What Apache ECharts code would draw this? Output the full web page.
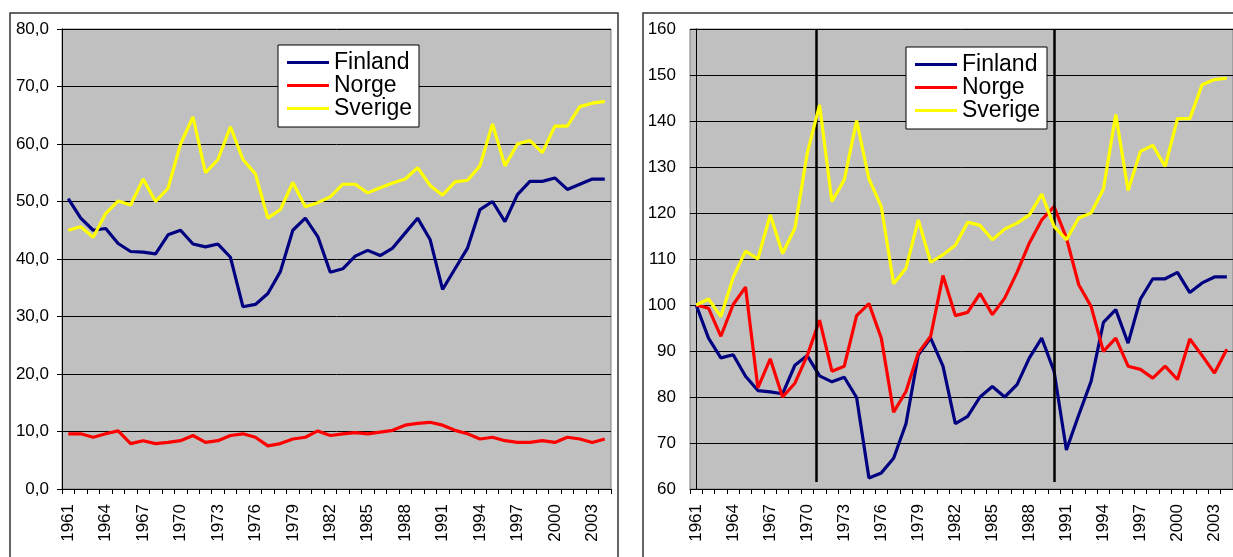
<!DOCTYPE html>
<html>
<head>
<meta charset="utf-8">
<script src="https://cdn.jsdelivr.net/npm/echarts@6/dist/echarts.min.js"></script>
<style>
  html, body { margin: 0; padding: 0; background: #fff; }
  #chart { width: 1233px; height: 557px; }
</style>
</head>
<body>
<div id="chart"></div>
<script>
  const years = []
  for (let y = 1961; y <= 2004; y++) years.push(String(y))

  // left chart: share (%)
  const finlandShare = [50.5, 47.1, 45.0, 45.3, 42.7, 41.3, 41.2, 40.9, 44.2, 45.0, 42.6, 42.1, 42.6, 40.3, 31.7,
    32.1, 34.0, 37.8, 45.0, 47.1, 43.9, 37.7, 38.3, 40.5, 41.5, 40.6, 41.9, 44.5, 47.1, 43.4,
    34.7, 38.3, 41.9, 48.6, 50.0, 46.5, 51.2, 53.5, 53.5, 54.1, 52.1, 53.0, 53.9, 53.9]
  const norgeShare = [9.6, 9.6, 9.0, 9.6, 10.1, 7.9, 8.4, 7.9, 8.1, 8.4, 9.3, 8.1, 8.4, 9.3, 9.6,
    9.0, 7.5, 7.9, 8.7, 9.0, 10.1, 9.3, 9.6, 9.8, 9.6, 9.9, 10.2, 11.1, 11.4, 11.6,
    11.1, 10.2, 9.6, 8.7, 9.0, 8.4, 8.1, 8.1, 8.4, 8.1, 9.0, 8.7, 8.1, 8.7]
  const sverigeShare = [45.0, 45.6, 43.8, 47.9, 50.1, 49.4, 53.9, 50.0, 52.3, 60.0, 64.7, 55.0, 57.3, 63.0, 57.3,
    54.8, 47.1, 48.6, 53.3, 49.1, 49.8, 50.8, 53.0, 53.0, 51.5, 52.4, 53.2, 53.9, 55.9, 52.8,
    51.1, 53.4, 53.7, 56.2, 63.5, 56.2, 60.0, 60.6, 58.5, 63.1, 63.1, 66.5, 67.1, 67.4]

  // right chart: index 1961 = 100
  const finlandIndex = [100, 92.8, 88.5, 89.2, 84.5, 81.4, 81.1, 80.7, 86.9, 89.0, 84.6, 83.3, 84.3, 79.9, 62.4,
    63.5, 66.7, 74.2, 89.2, 92.8, 86.7, 74.2, 75.8, 80.0, 82.3, 80.0, 82.7, 88.5, 92.8, 85.6,
    68.5, 76.1, 83.4, 96.2, 99.0, 91.7, 101.3, 105.7, 105.7, 107.1, 102.7, 104.8, 106.1, 106.1]
  const norgeIndex = [100, 99.3, 93.2, 100.1, 103.9, 82.0, 88.3, 80.0, 83.0, 89.0, 96.7, 85.6, 86.7, 97.7, 100.3,
    92.8, 76.7, 81.2, 89.6, 93.2, 106.4, 97.7, 98.4, 102.5, 97.9, 101.5, 107.1, 113.5, 118.5, 121.4,
    114.6, 104.4, 99.7, 89.9, 92.8, 86.7, 86.0, 84.1, 86.7, 83.8, 92.6, 89.0, 85.2, 90.4]
  const sverigeIndex = [100, 101.3, 97.5, 106.0, 111.7, 110.0, 119.6, 111.2, 116.7, 133.0, 143.5, 122.5, 127.2, 140.1, 127.4,
    121.4, 104.6, 108.0, 118.5, 109.3, 110.9, 113.0, 118.0, 117.3, 114.2, 116.5, 117.8, 119.6, 124.1, 117.1,
    114.2, 118.9, 120.0, 125.2, 141.4, 124.9, 133.4, 134.7, 130.1, 140.5, 140.5, 147.9, 149.0, 149.3]

  // vertical marker lines in the right chart
  const breakYears = [1970.73, 1990]

  const names = ['Finland', 'Norge', 'Sverige']
  const colors = ['#000080', '#ff0000', '#ffff00']
  const font = "'Liberation Sans', Arial, sans-serif"

  const chart = echarts.init(document.getElementById('chart'), null, { renderer: 'canvas' })

  function xAxisFor(gridIndex) {
    return {
      type: 'category',
      gridIndex,
      data: years,
      boundaryGap: true,
      axisLine: { lineStyle: { color: '#000', width: 1 } },
      axisTick: { show: true, interval: 0, length: 5, lineStyle: { color: '#000' } },
      axisLabel: { interval: 2, rotate: 90, margin: 15, color: '#000', fontSize: 17, fontFamily: font },
      splitLine: { show: false }
    }
  }

  function yAxisFor(gridIndex, min, max, fmt, margin) {
    return {
      type: 'value',
      gridIndex,
      min,
      max,
      interval: 10,
      axisLine: { show: true, lineStyle: { color: '#000', width: 1 } },
      axisTick: { show: true, length: 5, lineStyle: { color: '#000' } },
      axisLabel: { color: '#000', fontSize: 17, fontFamily: font, margin, formatter: fmt },
      splitLine: { show: true, lineStyle: { color: '#000', width: 1 } }
    }
  }

  function lineSeries(name, data, idx, axisIdx) {
    return {
      name,
      type: 'line',
      xAxisIndex: axisIdx,
      yAxisIndex: axisIdx,
      data,
      symbol: 'none',
      smooth: false,
      lineStyle: { color: colors[idx], width: 3.2 },
      itemStyle: { color: colors[idx] },
      emphasis: { disabled: true },
      z: 3 + idx
    }
  }

  function legendAt(left, top) {
    return {
      left,
      top,
      orient: 'vertical',
      data: names,
      icon: 'rect',
      backgroundColor: '#fff',
      borderColor: '#000',
      borderWidth: 1,
      padding: [6, 7, 7, 9],
      itemGap: 0,
      itemWidth: 42,
      itemHeight: 3,
      textStyle: { fontSize: 23, lineHeight: 22, color: '#000', fontFamily: font }
    }
  }

  const option = {
    animation: false,
    backgroundColor: '#fff',
    graphic: [
      { type: 'rect', shape: { x: 10, y: 13, width: 608, height: 580 }, style: { fill: 'none', stroke: '#333', lineWidth: 1.5 }, z: 0 },
      { type: 'rect', shape: { x: 643, y: 13, width: 640, height: 580 }, style: { fill: 'none', stroke: '#333', lineWidth: 1.5 }, z: 0 }
    ],
    grid: [
      { left: 62, top: 29, width: 549, height: 460, show: true, backgroundColor: '#c0c0c0', borderColor: '#808080', borderWidth: 1 },
      { left: 690, top: 29, width: 548, height: 460, show: true, backgroundColor: '#c0c0c0', borderColor: '#808080', borderWidth: 1 }
    ],
    legend: [legendAt(278, 45), legendAt(906, 47)],
    xAxis: [
      xAxisFor(0),
      xAxisFor(1),
      // hidden helper axis so the marker lines can sit between years
      { type: 'value', gridIndex: 1, min: -0.5, max: years.length - 0.5, show: false }
    ],
    yAxis: [
      yAxisFor(0, 0, 80, v => v.toFixed(1).replace('.', ','), 13),
      yAxisFor(1, 60, 160, v => String(v), 14)
    ],
    series: [
      lineSeries('Finland', finlandShare, 0, 0),
      lineSeries('Norge', norgeShare, 1, 0),
      lineSeries('Sverige', sverigeShare, 2, 0),
      lineSeries('Finland', finlandIndex, 0, 1),
      lineSeries('Norge', norgeIndex, 1, 1),
      lineSeries('Sverige', sverigeIndex, 2, 1),
      {
        name: 'breaks',
        type: 'line',
        xAxisIndex: 2,
        yAxisIndex: 1,
        data: [],
        silent: true,
        z: 10,
        markLine: {
          silent: true,
          symbol: 'none',
          label: { show: false },
          lineStyle: { color: '#000', width: 2.5, type: 'solid' },
          data: breakYears.map(y => [
            { coord: [y - Number(years[0]), 160] },
            { coord: [y - Number(years[0]), 61.5] }
          ])
        }
      }
    ]
  }

  chart.setOption(option)
</script>
</body>
</html>
